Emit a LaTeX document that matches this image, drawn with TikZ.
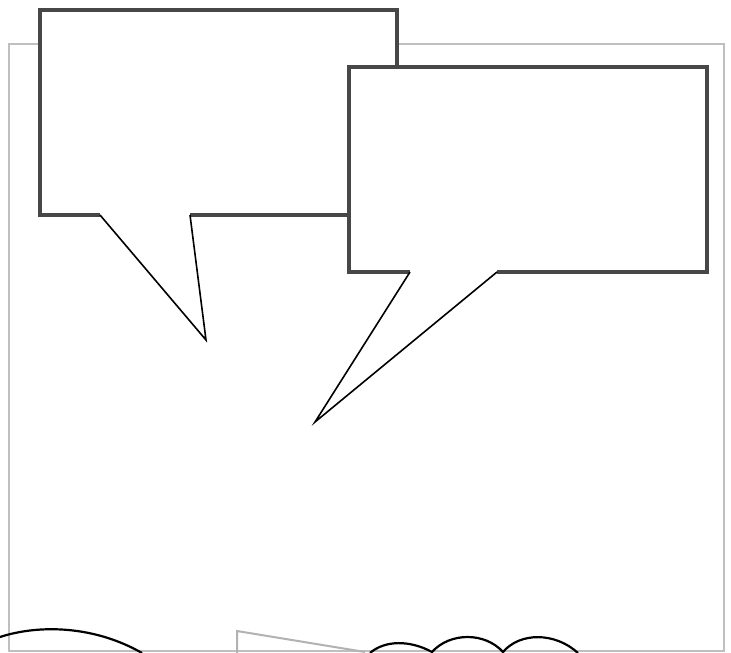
\documentclass[tikz,border=0pt]{standalone}
\begin{document}
\begin{tikzpicture}[x=1pt,y=-1pt,
  frame/.style={draw=black!25,line width=2.5pt},
  bubble/.style={draw=black!72,line width=3.5pt,line join=miter},
  tail/.style={draw=black,line width=1.6pt,line join=miter},
  wave/.style={draw=black,line width=2.2pt},
  gwave/.style={draw=black!30,line width=2pt}]
\useasboundingbox (0,0) rectangle (731,653);
\fill[white] (0,0) rectangle (731,653);
% frame
\draw[frame] (9,44) rectangle (724,651);
% left bubble
\fill[white] (40,10) rectangle (397,215);
\fill[white] (100,215) -- (206,340) -- (190,215) -- cycle;
\draw[bubble] (190,215) -- (397,215) -- (397,10) -- (40,10) -- (40,215) -- (100,215);
\draw[tail] (100,215) -- (206,340) -- (190,215);
% right bubble
\fill[white] (349,67) rectangle (707,272);
\fill[white] (410,272) -- (315,422) -- (497,272) -- cycle;
\draw[bubble] (410,272) -- (349,272) -- (349,67) -- (707,67) -- (707,272) -- (497,272);
\draw[tail] (410,272) -- (315,422) -- (497,272);
% bottom waves
\draw[wave] (0,637) .. controls (40,624) and (95,626) .. (142,653);
\draw[gwave] (237,653) -- (237,631) -- (365,652);
\draw[wave] (370,653) .. controls (385,640) and (410,640) .. (432,652)
  .. controls (450,632) and (485,632) .. (503,652)
  .. controls (520,632) and (555,632) .. (578,653);
\end{tikzpicture}
\end{document}
